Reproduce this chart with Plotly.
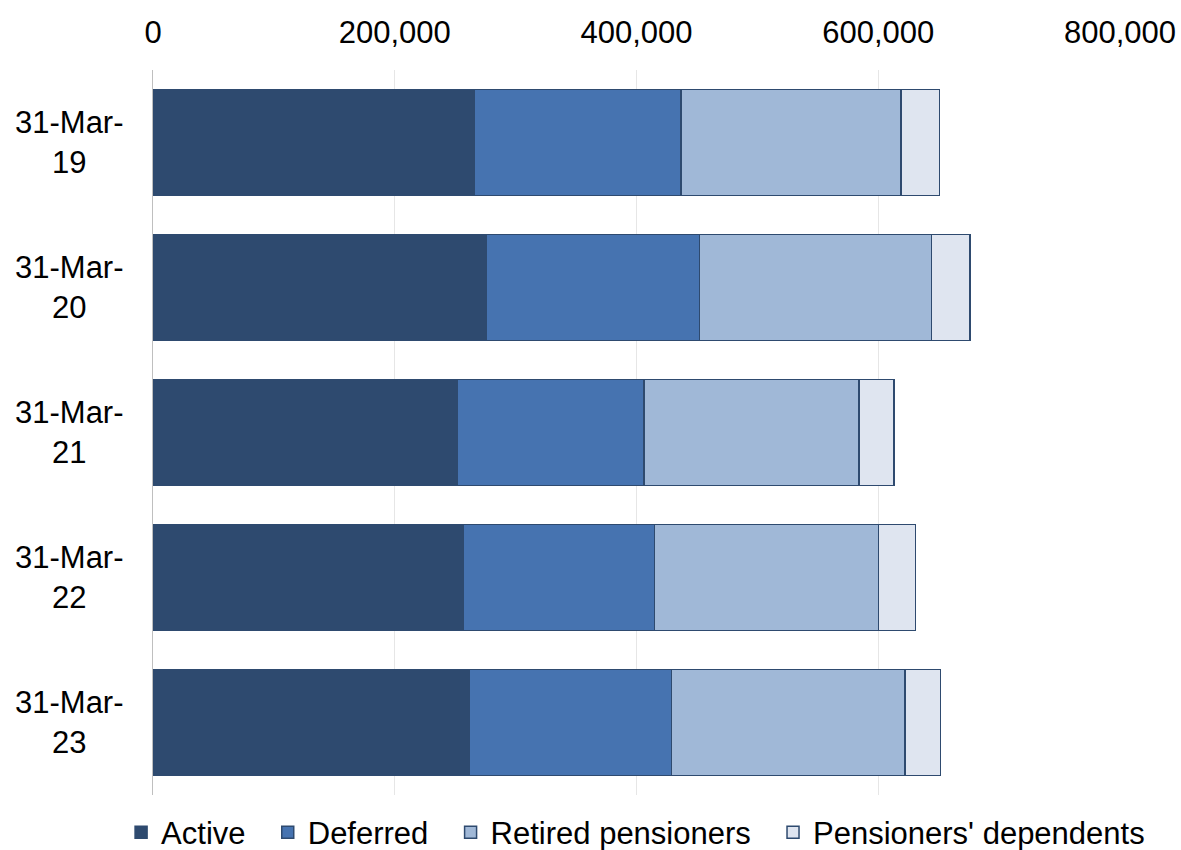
import plotly.graph_objects as go

dates = ["31-Mar-19", "31-Mar-20", "31-Mar-21", "31-Mar-22", "31-Mar-23"]
active = [266000, 276000, 252000, 257000, 262000]
deferred = [171000, 176000, 154000, 158000, 167000]
retired = [182000, 192000, 178000, 185000, 193000]
dependents = [31500, 32000, 29000, 31000, 29500]

series = [
    ("Active", active, "#2E4A6F"),
    ("Deferred", deferred, "#4673B0"),
    ("Retired pensioners", retired, "#A0B8D7"),
    ("Pensioners' dependents", dependents, "#DFE5F0"),
]

FONT = "Liberation Sans, Arial"
PAD = "\u00a0\u00a0"  # a bit more room between legend entries

fig = go.Figure()
for name, vals, colour in series:
    fig.add_trace(go.Bar(
        y=dates, x=vals, name=name + PAD, orientation="h",
        marker=dict(color=colour, line=dict(color="#2E4A6F", width=1.5)),
        width=0.73,
    ))

# centred two-line category labels
for d in dates:
    fig.add_annotation(
        x=-0.086, xref="paper", y=d, yref="y",
        text=d[:7] + "<br>" + d[7:], showarrow=False,
        xanchor="center", yanchor="middle", align="center",
        font=dict(family=FONT, size=31, color="#000000"),
    )

fig.update_layout(
    barmode="stack",
    width=1181, height=850,
    margin=dict(l=153, r=61, t=70, b=55, autoexpand=False),
    plot_bgcolor="white", paper_bgcolor="white",
    font=dict(family=FONT, size=31, color="#000000"),
    legend=dict(
        orientation="h", x=-0.033, xanchor="left", y=-0.052, yanchor="middle",
        font=dict(size=31), traceorder="normal", itemwidth=30,
    ),
    xaxis=dict(
        side="top", range=[0, 800000], tickvals=[0, 200000, 400000, 600000, 800000],
        tickformat=",", showgrid=True, gridcolor="#E6E6E6", gridwidth=1,
        zeroline=False, showline=False, ticklabelstandoff=20, automargin=False,
    ),
    yaxis=dict(
        categoryorder="array", categoryarray=dates, autorange="reversed",
        showticklabels=False, showgrid=False, zeroline=False, automargin=False,
        showline=True, linecolor="#BFBFBF", linewidth=1,
    ),
)

fig.write_html("out.html", config={"displayModeBar": False},
               post_script="document.body.style.margin='0';")
